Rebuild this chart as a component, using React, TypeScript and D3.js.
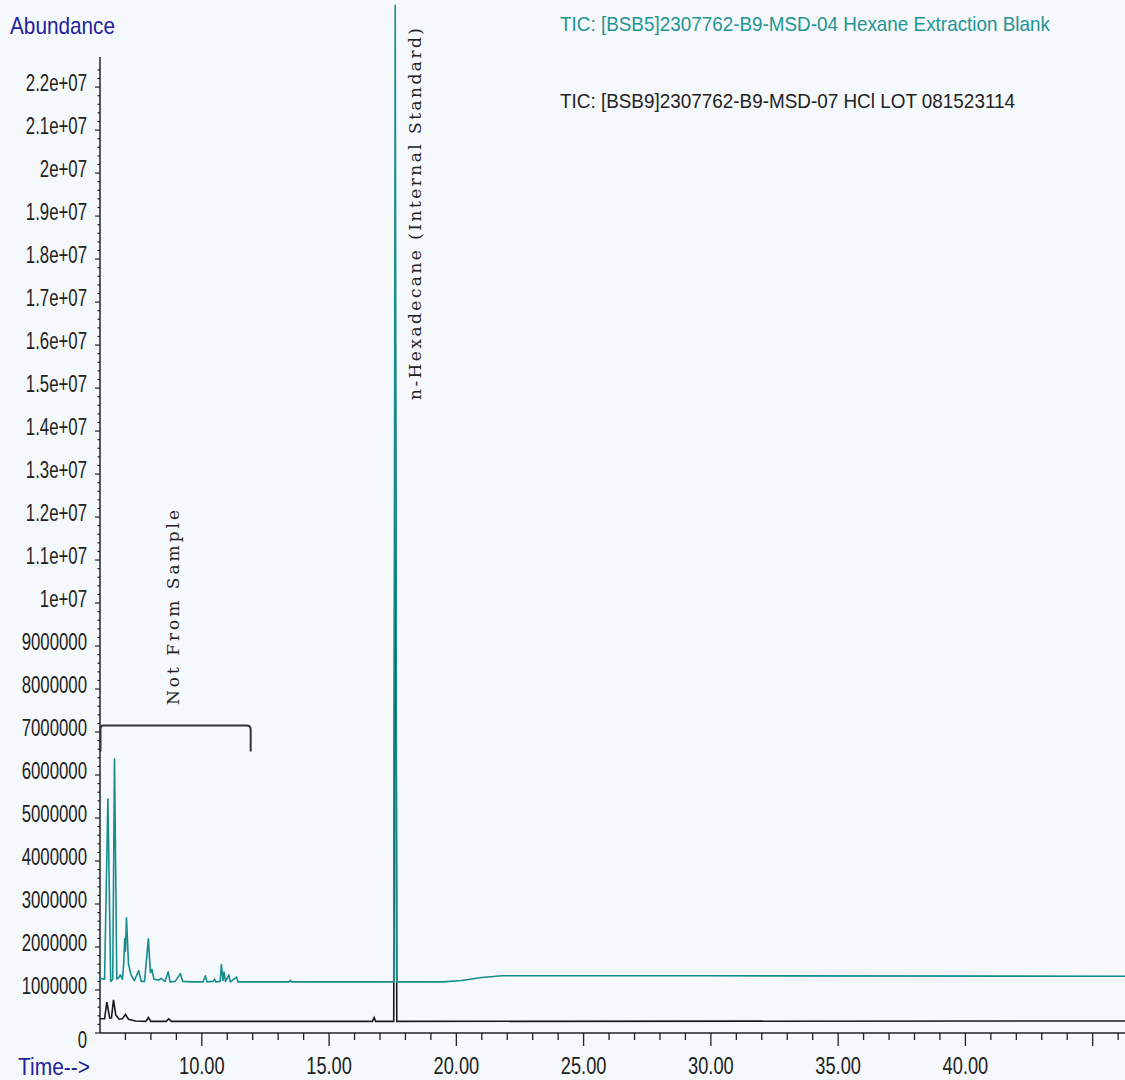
import React, { useRef, useEffect } from 'react';
import * as d3 from 'd3';

// Teal trace: TIC of the hexane extraction blank (time in min, abundance)
const tealTimes = [
  6.0, 6.18, 6.31, 6.42, 6.5, 6.57, 6.66, 6.75, 6.8, 6.88, 6.93, 6.97, 7.0, 7.04, 7.12, 7.22,
  7.35, 7.52, 7.62, 7.75, 7.9, 7.98, 8.04, 8.12, 8.3, 8.4, 8.55, 8.68, 8.75, 8.95, 9.16, 9.25,
  9.6, 10.05, 10.14, 10.2, 10.45, 10.5, 10.55, 10.72, 10.77, 10.83, 10.87, 10.93, 11.06, 11.12,
  11.36, 11.42, 11.7, 13.44, 13.48, 13.52, 17.54, 17.6, 17.66, 19.5, 20.2, 21.0, 21.8, 30.0, 46.3
];
const tealValues = [
  1.27e6, 1.25e6, 5.44e6, 1.2e6, 1.25e6, 6.38e6, 1.25e6, 1.3e6, 1.35e6, 1.25e6, 1.6e6, 2.19e6, 1.9e6, 2.68e6, 1.6e6, 1.35e6,
  1.22e6, 1.45e6, 1.2e6, 1.2e6, 2.19e6, 1.4e6, 1.48e6, 1.25e6, 1.23e6, 1.27e6, 1.2e6, 1.42e6, 1.19e6, 1.2e6, 1.38e6, 1.2e6,
  1.19e6, 1.19e6, 1.33e6, 1.19e6, 1.2e6, 1.25e6, 1.19e6, 1.2e6, 1.59e6, 1.22e6, 1.42e6, 1.2e6, 1.35e6, 1.19e6,
  1.3e6, 1.19e6, 1.19e6, 1.19e6, 1.23e6, 1.19e6, 1.19e6, 2.39e7, 1.19e6, 1.19e6, 1.22e6, 1.29e6, 1.33e6, 1.33e6, 1.32e6
];

// Black trace: TIC of HCl LOT 081523114
const blackTimes = [
  6.0, 6.18, 6.27, 6.38, 6.45, 6.53, 6.62, 6.75, 6.88, 7.0, 7.12, 7.4, 7.8, 7.9, 8.0, 8.6, 8.7,
  8.8, 16.7, 16.77, 16.83, 17.54, 17.6, 17.66, 46.3
];
const blackValues = [
  0.33e6, 0.33e6, 0.72e6, 0.35e6, 0.35e6, 0.77e6, 0.42e6, 0.32e6, 0.33e6, 0.43e6, 0.32e6, 0.28e6, 0.27e6, 0.36e6, 0.27e6, 0.27e6, 0.33e6,
  0.27e6, 0.27e6, 0.36e6, 0.27e6, 0.27e6, 1.6e7, 0.27e6, 0.28e6
];

const yTickValues = d3.range(0, 22e6 + 1, 1e6);
const xTickValues = [10, 15, 20, 25, 30, 35, 40, 45];
const xTickLabels = ['10.00', '15.00', '20.00', '25.00', '30.00', '35.00', '40.00', ''];

const seriesNames = [
  'TIC: [BSB5]2307762-B9-MSD-04 Hexane Extraction Blank',
  'TIC: [BSB9]2307762-B9-MSD-07 HCl LOT 081523114'
];

// "Not From Sample" bracket extent (time from / to, abundance top / foot)
const bracketTimes = [6.02, 11.92];
const bracketLevels = [7.15e6, 6.55e6];
const hexadecaneTime = 17.6;

const TEAL = '#178c8c';
const BLUE = '#22229c';
const DARK = '#222';

const fmtY = (v: number) => {
  if (v === 0) return '0';
  if (v >= 1e7) return `${+(v / 1e7).toFixed(1)}e+07`;
  return String(v);
};

const App: React.FC = () => {
  const ref = useRef<SVGSVGElement>(null);

  useEffect(() => {
    if (!ref.current) return;
    const svg = d3.select(ref.current);
    svg.selectAll('*').remove();

    const x = d3.scaleLinear().domain([6.0, 46.27]).range([100, 1125]);
    const y = d3.scaleLinear().domain([0, 2.27e7]).range([1033, 57]);

    svg.append('rect').attr('width', 1125).attr('height', 1080).attr('fill', '#f6f9fb');

    // axes lines
    svg.append('line').attr('x1', 100).attr('x2', 100).attr('y1', y.range()[1]).attr('y2', y.range()[0])
      .attr('stroke', DARK).attr('stroke-width', 1.5);
    svg.append('line').attr('x1', 100).attr('x2', 1125).attr('y1', 1033).attr('y2', 1033)
      .attr('stroke', DARK).attr('stroke-width', 1.5);

    // y ticks
    const yMinor = d3.range(0, 22.6e6, 2e5);
    svg.append('g').selectAll('line').data(yMinor).enter().append('line')
      .attr('x1', 100).attr('x2', d => (Math.round(d / 2e5) % 5 === 0 ? 95 : 97.5))
      .attr('y1', d => y(d)).attr('y2', d => y(d))
      .attr('stroke', DARK).attr('stroke-width', 1.2);

    svg.append('g').selectAll('text').data(yTickValues).enter().append('text')
      .attr('transform', d => `translate(87,${d === 0 ? y(d) + 7 : y(d) - 4}) scale(0.73,1)`)
      .attr('dy', '0.35em')
      .attr('text-anchor', 'end')
      .attr('font-family', 'Liberation Sans, Arial, sans-serif')
      .attr('font-size', 23)
      .attr('fill', DARK)
      .text(d => fmtY(d));

    // x ticks
    const xMinor = d3.range(7, 47, 1);
    svg.append('g').selectAll('line').data(xMinor).enter().append('line')
      .attr('x1', d => x(d)).attr('x2', d => x(d))
      .attr('y1', 1033).attr('y2', d => (d % 5 === 0 ? 1046 : 1040))
      .attr('stroke', DARK).attr('stroke-width', 1.3);

    svg.append('g').selectAll('text').data(xTickValues).enter().append('text')
      .attr('transform', d => `translate(${x(d)},1074) scale(0.76,1)`)
      .attr('text-anchor', 'middle')
      .attr('font-family', 'Liberation Sans, Arial, sans-serif')
      .attr('font-size', 24)
      .attr('fill', DARK)
      .text((d, i) => xTickLabels[i]);

    // axis titles
    svg.append('text').attr('x', 10).attr('y', 34)
      .attr('font-family', 'Liberation Sans, Arial, sans-serif').attr('font-size', 24)
      .attr('textLength', 105).attr('lengthAdjust', 'spacingAndGlyphs')
      .attr('fill', BLUE).text('Abundance');
    svg.append('text').attr('x', 18).attr('y', 1075)
      .attr('font-family', 'Liberation Sans, Arial, sans-serif').attr('font-size', 23)
      .attr('textLength', 72).attr('lengthAdjust', 'spacingAndGlyphs')
      .attr('fill', BLUE).text('Time-->');

    // traces
    const line = d3.line<[number, number]>().x(d => x(d[0])).y(d => y(d[1]));
    const blackData = blackTimes.map((t, i) => [t, blackValues[i]] as [number, number]);
    const tealData = tealTimes.map((t, i) => [t, tealValues[i]] as [number, number]);

    svg.append('path').datum(blackData)
      .attr('fill', 'none').attr('stroke', '#1a1a1a').attr('stroke-width', 1.6).attr('d', line);
    svg.append('path').datum(tealData)
      .attr('fill', 'none').attr('stroke', TEAL).attr('stroke-width', 1.6)
      .attr('stroke-linejoin', 'round').attr('d', line);

    // legend
    svg.append('text').attr('x', 560).attr('y', 31)
      .attr('font-family', 'Liberation Sans, Arial, sans-serif').attr('font-size', 21)
      .attr('textLength', 490).attr('lengthAdjust', 'spacingAndGlyphs')
      .attr('fill', '#1f9494').text(seriesNames[0]);
    svg.append('text').attr('x', 560).attr('y', 108)
      .attr('font-family', 'Liberation Sans, Arial, sans-serif').attr('font-size', 21)
      .attr('textLength', 455).attr('lengthAdjust', 'spacingAndGlyphs')
      .attr('fill', DARK).text(seriesNames[1]);

    // "Not From Sample" bracket
    const bx0 = x(bracketTimes[0]);
    const bx1 = x(bracketTimes[1]);
    const by0 = y(bracketLevels[0]);
    const by1 = y(bracketLevels[1]);
    svg.append('path')
      .attr('d', `M${bx0},${by1} L${bx0},${by0 + 3} Q${bx0},${by0} ${bx0 + 3},${by0} L${bx1 - 4},${by0} Q${bx1},${by0} ${bx1},${by0 + 4} L${bx1},${by1}`)
      .attr('fill', 'none').attr('stroke', '#333').attr('stroke-width', 2);

    const annFont = 'DejaVu Serif, Liberation Serif, serif';
    svg.append('text')
      .attr('transform', `translate(179,705) rotate(-90)`)
      .attr('font-family', annFont).attr('font-size', 17)
      .attr('textLength', 195).attr('lengthAdjust', 'spacing')
      .attr('fill', DARK).text('Not From Sample');

    svg.append('text')
      .attr('transform', `translate(${x(hexadecaneTime) + 26},400) rotate(-90)`)
      .attr('font-family', annFont).attr('font-size', 17)
      .attr('textLength', 372).attr('lengthAdjust', 'spacing')
      .attr('fill', DARK).text('n-Hexadecane (Internal Standard)');
  }, []);

  return (
    <div style={{ width: 1125, height: 1080 }}>
      <style>{'body{margin:0;}'}</style>
      <svg ref={ref} width={1125} height={1080} style={{ display: 'block' }} />
    </div>
  );
};

export default App;
